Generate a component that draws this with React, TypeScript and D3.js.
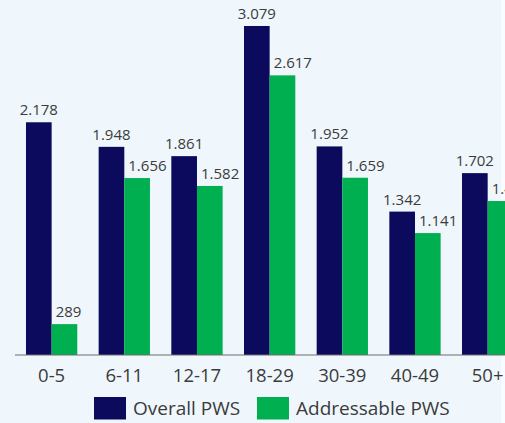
import React from "react";
import * as d3 from "d3";

// Age groups and PWS counts per group
const categories = ["0-5", "6-11", "12-17", "18-29", "30-39", "40-49", "50+"];
const seriesNames = ["Overall PWS", "Addressable PWS"];
const overallPWS = [2178, 1948, 1861, 3079, 1952, 1342, 1702];
const addressablePWS = [289, 1656, 1582, 2617, 1659, 1141, 1441];

const W = 505;
const H = 423;
const NAVY = "#0b0a5c";
const GREEN = "#00b050";
const FONT = "'Open Sans', 'Noto Sans', sans-serif";

// Thousands separator as a dot (e.g. 2.178)
const fmt = (v: number) => d3.format(",")(v).replace(/,/g, ".");

export default function App() {
  const baseline = 355;
  const x0 = d3
    .scaleBand<string>()
    .domain(categories)
    .range([15.3, 524])
    .paddingInner(0.294)
    .paddingOuter(0.147);
  const x1 = d3
    .scaleBand<string>()
    .domain(seriesNames)
    .range([0, x0.bandwidth()]);
  const y = d3.scaleLinear().domain([0, 3079]).range([baseline, 26]);

  const series = [
    { name: seriesNames[0], values: overallPWS, color: NAVY },
    { name: seriesNames[1], values: addressablePWS, color: GREEN },
  ];

  const legend = [
    { name: seriesNames[0], color: NAVY, x: 94, tx: 133 },
    { name: seriesNames[1], color: GREEN, x: 257, tx: 296 },
  ];

  return (
    <svg
      width={W}
      height={H}
      style={{ position: "absolute", left: 0, top: 0 }}
      fontFamily={FONT}
    >
      <rect width={W} height={H} fill="#eff7fc" />
      <rect x={501} width={4} height={H} fill="#f8fcfe" />

      {series.map((s, si) =>
        categories.map((c, i) => {
          const bx = (x0(c) ?? 0) + (x1(s.name) ?? 0);
          const bw = x1.bandwidth();
          const top = y(s.values[i]);
          return (
            <g key={`${si}-${c}`}>
              <rect x={bx} y={top} width={bw} height={baseline - top} fill={s.color} />
              <text
                x={si === 0 ? bx + bw / 2 : bx + 4}
                y={top - 7}
                textAnchor={si === 0 ? "middle" : "start"}
                fontSize={15}
                fill="#3b3b3b"
              >
                {fmt(s.values[i])}
              </text>
            </g>
          );
        })
      )}

      <line x1={15} x2={W} y1={baseline} y2={baseline} stroke="#6e6e6e" strokeWidth={1.2} />

      {categories.map((c) => (
        <text
          key={c}
          x={(x0(c) ?? 0) + x0.bandwidth() / 2}
          y={382}
          textAnchor="middle"
          fontSize={18.5}
          fill="#3b3b3b"
        >
          {c}
        </text>
      ))}

      {legend.map((l) => (
        <g key={l.name}>
          <rect x={l.x} y={397} width={32} height={22.5} fill={l.color} />
          <text x={l.tx} y={415} fontSize={19} fill="#3b3b3b">
            {l.name}
          </text>
        </g>
      ))}
    </svg>
  );
}
